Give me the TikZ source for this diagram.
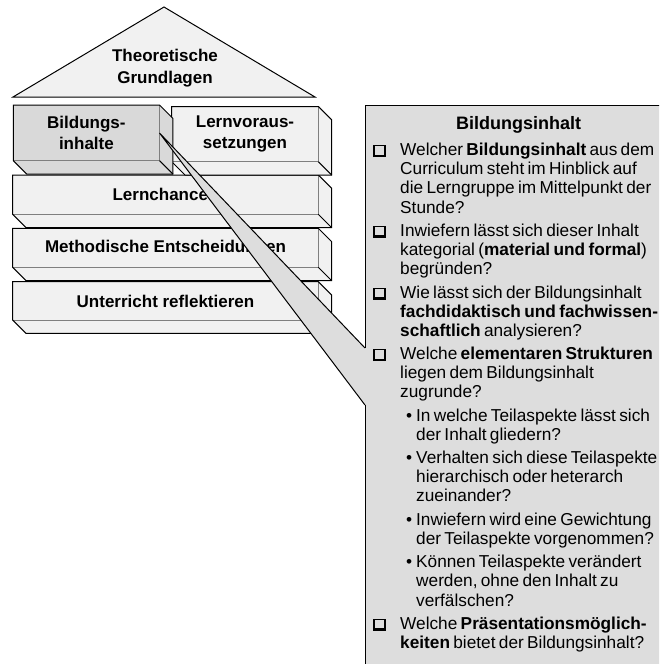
\documentclass[tikz,border=0pt]{standalone}
\usepackage{fontspec}
\setmainfont{Liberation Sans}
\definecolor{facelight}{HTML}{F1F1F1}
\definecolor{facedark}{HTML}{D9D9D9}
\definecolor{callfill}{HTML}{DDDDDD}
\definecolor{edgegrey}{HTML}{7F7F7F}
\newcommand\dd{13.4}
\tikzset{
  outerline/.style={draw=black, line width=1pt, line join=miter},
  innerline/.style={draw=edgegrey, line width=1pt},
  lbl/.style={font=\bfseries\fontsize{17}{21.5}\selectfont, align=center, inner sep=0pt},
}
% cube: x1 y1 x2 y2 colour
\newcommand\drawcube[5]{%
  \fill[#5] (#1,#2) -- (#3,#2) -- (#3+\dd,#2+\dd) -- (#3+\dd,#4+\dd) -- (#1+\dd,#4+\dd) -- (#1,#4) -- cycle;
  \draw[innerline] (#3,#2) -- (#3,#4) -- (#1,#4);
  \draw[outerline] (#3,#4) -- (#3+\dd,#4+\dd);
  \draw[outerline] (#1,#2) -- (#3,#2) -- (#3+\dd,#2+\dd) -- (#3+\dd,#4+\dd) -- (#1+\dd,#4+\dd) -- (#1,#4) -- cycle;
}
\newcommand\chkbox{\hbox{\vrule width 1.2pt height 12pt\vbox to 12pt{\hrule height 1.2pt width 9pt\vfil\hrule height 2.6pt width 9pt}\vrule width 2.6pt height 12pt}}
\newcommand\chk{\leavevmode\llap{\raisebox{-1.5pt}{\chkbox}\hspace{14pt}}}
\newcommand\bul{\leavevmode\llap{\textbullet\hspace{4pt}}}
\begin{document}
\begin{tikzpicture}[x=1pt,y=-1pt]
\useasboundingbox (0,0) rectangle (659,664);
\clip (0,0) rectangle (659,664);
% roof
\draw[outerline, fill=facelight] (13,97) -- (164,7) -- (315,97) -- cycle;
\node[lbl, font=\bfseries\fontsize{17}{22}\selectfont] (theo) at (165,68) {Theoretische\\Grundlagen};
% rows (bottom first)
\drawcube{12.7}{281.7}{318.3}{320}{facelight}
\drawcube{12.7}{228.3}{318.3}{267.3}{facelight}
\drawcube{12.7}{175}{318.3}{214.3}{facelight}
\drawcube{171.7}{106.5}{318.3}{161.7}{facelight}
\drawcube{13.3}{105}{159.5}{160.7}{facedark}
\node[lbl] (bild) at (86.4,132.9) {Bildungs-\\inhalte};
\node[lbl] (lernv) at (245,134) {Lernvoraus-\\setzungen};
\node[lbl] (chancen) at (165.5,194.7) {Lernchancen};
\node[lbl] (method) at (165.5,247.8) {Methodische Entscheidungen};
\node[lbl] (unterr) at (165.5,301) {Unterricht reflektieren};
% callout box
\fill[callfill] (365,105) rectangle (700,700);
\coordinate (tip) at (159.5,133);
\coordinate (openA) at (365,348);
\coordinate (openB) at (365,405);
\fill[callfill] (tip) -- (openA) -- (openB) -- cycle;
\draw[outerline] (openA) -- (tip) -- (openB);
\draw[outerline] (openA) -- (365,105) -- (700,105);
\draw[outerline] (openB) -- (365,700);
\node[font=\bfseries\fontsize{18}{20}\selectfont, inner sep=0pt] (titel) at (518.5,125) {Bildungsinhalt};
\node[anchor=north west, inner sep=0pt, text width=420pt, align=left] (fragen) at (400,143) {%
\fontsize{17.25}{19.1}\selectfont\setlength\parskip{4.3pt}%
\chk Welcher \textbf{Bildungsinhalt} aus dem\\
Curriculum steht im Hinblick auf\\
die Lerngruppe im Mittelpunkt der\\
Stunde?\par
\chk Inwiefern lässt sich dieser Inhalt\\
kategorial (\textbf{material und formal})\\
begründen?\par
\chk Wie lässt sich der Bildungsinhalt\\
\textbf{fachdidaktisch und fachwissen-}\\
\textbf{schaftlich} analysieren?\par
\chk Welche \textbf{elementaren Strukturen}\\
liegen dem Bildungsinhalt\\
zugrunde?\par
{\leftskip=16pt\relax
\bul In welche Teilaspekte lässt sich\\
der Inhalt gliedern?\par
\bul Verhalten sich diese Teilaspekte\\
hierarchisch oder heterarch\\
zueinander?\par
\bul Inwiefern wird eine Gewichtung\\
der Teilaspekte vorgenommen?\par
\bul Können Teilaspekte verändert\\
werden, ohne den Inhalt zu\\
verfälschen?\par}
\chk Welche \textbf{Präsentationsmöglich-}\\
\textbf{keiten} bietet der Bildungsinhalt?\par
};
\end{tikzpicture}
\end{document}
